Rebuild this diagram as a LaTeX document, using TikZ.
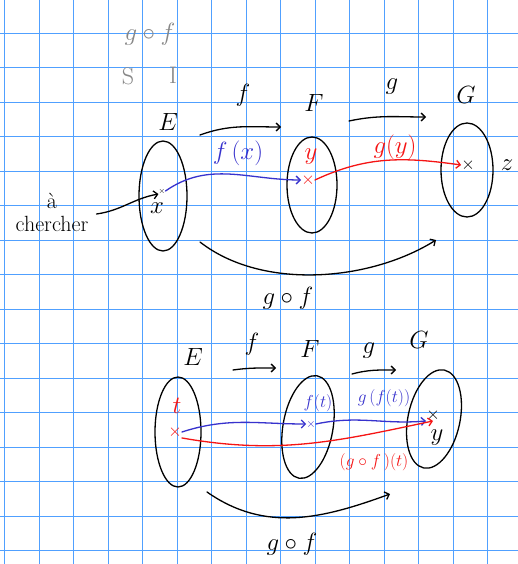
\documentclass[tikz,border=0pt]{standalone}
\usepackage{amssymb}
\usepackage{xcolor}
\usepackage{tikz}
\usetikzlibrary{arrows.meta}
\usetikzlibrary{positioning}

\definecolor{quadrillage}{RGB}{80,160,255}
\definecolor{stylobleu}{RGB}{55,50,205}
\definecolor{stylorouge}{RGB}{245,20,20}
\definecolor{stylogris}{RGB}{135,135,135}

\tikzset{
    plume/.style={line width=1.3pt, line cap=round},
    fleche/.style={plume, -{Straight Barb[length=4pt, width=8pt]}},
    croix/.style={inner sep=0pt, font=\fontsize{18}{20}\selectfont},
    lettre/.style={font=\fontsize{26}{28}\selectfont},
    etiq/.style={font=\fontsize{24}{26}\selectfont},
    petit/.style={font=\fontsize{19}{21}\selectfont}
}

\begin{document}
\begin{tikzpicture}[x=1pt, y=-1pt]
        \useasboundingbox (0,0) rectangle (518,564);
        \fill[white] (0,0) rectangle (518,564);

        % Quadrillage
        \foreach \i in {0,...,14}
            \draw[quadrillage, line width=0.9pt] ({4.5+34.5*\i},0) -- ++(0,564);
        \foreach \j in {0,...,15}
            \draw[quadrillage, line width=0.9pt] (0,{33+34.5*\j}) -- ++(518,0);

        % Note en gris
        \node[stylogris, font=\fontsize{32}{34}\selectfont] (compo) at (150,34) {$g\circ f$};
        \node[stylogris, etiq] (surj) at (128,76) {S};
        \node[stylogris, etiq] (inj) at (173,75) {I};

        % Ensembles (haut)
        \draw[plume] (163,196) ellipse (24 and 55);
        \draw[plume] (312,185) ellipse (25 and 48);
        \draw[plume] (467,170) ellipse (26 and 47);
        \node[lettre] (E1) at (168,122) {$E$};
        \node[lettre] (F1) at (314,103) {$F$};
        \node[lettre] (G1) at (466,95) {$G$};

        % Fleches f et g (haut)
        \coordinate (f1a) at (200,135);
        \coordinate (f1b) at (281,127);
        \coordinate (g1a) at (349,121);
        \coordinate (g1b) at (426,117);
        \draw[fleche] (f1a) to[out=20, in=180] (f1b);
        \draw[fleche] (g1a) to[out=12, in=180] (g1b);
        \node[etiq] (f1) at (243,95) {$f$};
        \node[etiq] (g1) at (392,87) {$g$};

        % Points et etiquettes (haut)
        \node[croix, font=\footnotesize] (ptx) at (162,191) {$\times$};
        \node[etiq] (labx) at (157,208) {$x$};
        \node[croix, stylorouge] (pty) at (308,180) {$\times$};
        \node[etiq, stylorouge] (laby) at (311,157) {$y$};
        \node[croix] (ptz) at (468,165) {$\times$};
        \node[etiq] (labz) at (507,165) {$z$};

        \node[font=\fontsize{22}{22}\selectfont, align=center, inner sep=0pt] (cherche) at (52,212) {\`a\\[1pt]chercher};
        \draw[fleche] ([xshift=8pt, yshift=-2pt]cherche.east) to[out=8, in=190] (ptx.south west);

        \draw[fleche, stylobleu] (ptx.east) to[out=35, in=180] (pty.west);
        \node[etiq, stylobleu] (fx) at (238,153) {$f\,(x)$};
        \draw[fleche, stylorouge] (pty.east) to[out=25, in=172] (ptz.west);
        \node[etiq, stylorouge] (gy) at (395,147) {$g(y)$};

        % Composee (haut)
        \coordinate (c1a) at (200,242);
        \coordinate (c1b) at (436,240);
        \draw[fleche] (c1a) to[out=-38, in=212, looseness=0.85] (c1b);
        \node[etiq] (gof1) at (288,298) {$g\circ f$};

        % Ensembles (bas)
        \draw[plume] (178,432) ellipse (23 and 55);
        \draw[plume, rotate around={-10:(308,427)}] (308,427) ellipse (25 and 52);
        \draw[plume, rotate around={-12:(434,419)}] (434,419) ellipse (26 and 50);
        \node[lettre] (E2) at (193,357) {$E$};
        \node[lettre] (F2) at (310,349) {$F$};
        \node[lettre] (G2) at (419,340) {$G$};

        % Fleches f et g (bas)
        \coordinate (f2a) at (233,370);
        \coordinate (f2b) at (276,368);
        \coordinate (g2a) at (352,374);
        \coordinate (g2b) at (396,370);
        \draw[fleche] (f2a) to[out=8, in=180] (f2b);
        \draw[fleche] (g2a) to[out=15, in=180] (g2b);
        \node[etiq] (f2) at (252,344) {$f$};
        \node[etiq] (g2) at (369,351) {$g$};

        % Points et etiquettes (bas)
        \node[croix, stylorouge] (ptt) at (175,432) {$\times$};
        \node[etiq, stylorouge] (labt) at (177,406) {$t$};
        \node[croix, stylobleu, font=\large] (ptft) at (311,424) {$\times$};
        \node[petit, stylobleu] (ft) at (318,403) {$f(t)$};
        \node[croix] (pty2) at (433,415) {$\times$};
        \node[etiq] (laby2) at (437,438) {$y$};

        \draw[fleche, stylobleu] (ptt.east) to[out=18, in=180] (ptft.west);
        \draw[fleche, stylobleu] (ptft.east) to[out=12, in=185] (pty2.south west);
        \node[petit, stylobleu] (gft) at (384,398) {$g\,(f(t))$};
        \draw[fleche, stylorouge] (ptt.south east) to[out=-10, in=192] (pty2.south);
        \node[petit, stylorouge] (goft) at (374,462) {$(g\circ f\,)(t)$};

        % Composee (bas)
        \coordinate (c2a) at (207,492);
        \coordinate (c2b) at (390,494);
        \draw[fleche] (c2a) to[out=-35, in=200] (c2b);
        \node[etiq] (gof2) at (292,544) {$g\circ f$};
    \end{tikzpicture}
\end{document}
